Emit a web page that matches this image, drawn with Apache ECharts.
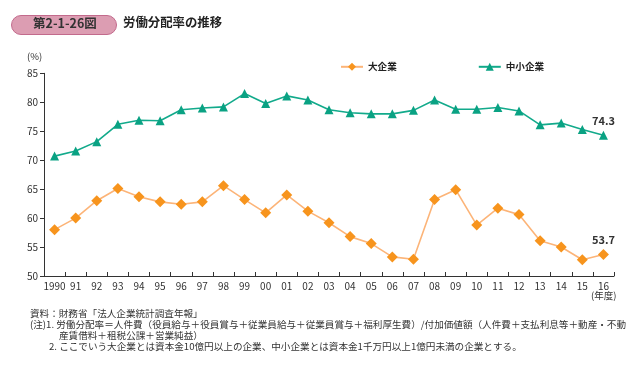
<!DOCTYPE html>
<html><head><meta charset="utf-8">
<script src="https://cdn.jsdelivr.net/npm/echarts@6/dist/echarts.min.js"></script>
<style>html,body{margin:0;padding:0;background:#fff}#c{width:631px;height:369px}</style>
</head><body><div id="c"></div>
<script>
const categories = ['1990','91','92','93','94','95','96','97','98','99','00','01','02','03','04','05','06','07','08','09','10','11','12','13','14','15','16'];
const largeValues = [58.0,60.0,63.0,65.1,63.7,62.8,62.4,62.8,65.6,63.2,60.9,64.0,61.2,59.2,56.8,55.6,53.3,52.9,63.2,64.9,58.8,61.7,60.6,56.1,55.0,52.8,53.7];
const smeValues = [70.7,71.6,73.2,76.2,76.9,76.8,78.7,79.0,79.2,81.5,79.8,81.1,80.4,78.7,78.2,78.0,78.0,78.6,80.4,78.8,78.8,79.1,78.5,76.1,76.4,75.3,74.3];
const seriesNames = ['大企業','中小企業'];
const yTicks = {min:50, max:85, interval:5};
const FONT = '"Noto Sans CJK JP", "Noto Sans", sans-serif';

function withLastLabel(arr){
  return arr.map((v,i)=> i===arr.length-1 ? {value:v, label:{show:true, position:'top', distance:4, formatter: v.toFixed(1), fontSize:11, fontWeight:'bold', color:'#333', fontFamily:FONT}} : v);
}
const chart = echarts.init(document.getElementById('c'), null, {renderer:'canvas'});
const noteStyle = {fontSize:9.6, fill:'#333', fontFamily:FONT, textVerticalAlign:'middle'};
chart.setOption({
  animation:false,
  textStyle:{fontFamily:FONT},
  grid:{left:44, right:17, top:73.3, bottom:93, containLabel:false},
  legend:{
    left:335, top:57, itemWidth:22, itemHeight:10, itemGap:81,
    textStyle:{fontSize:9.6, color:'#222', fontWeight:'bold', fontFamily:FONT},
    data:seriesNames
  },
  xAxis:{
    type:'category', data:categories, boundaryGap:true,
    axisLine:{lineStyle:{color:'#333', width:1}},
    axisTick:{show:true, inside:true, length:4, lineStyle:{color:'#333'}, alignWithLabel:false},
    axisLabel:{fontSize:10, color:'#333', margin:5, interval:0, fontFamily:FONT}
  },
  yAxis:{
    type:'value', min:yTicks.min, max:yTicks.max, interval:yTicks.interval,
    splitLine:{show:false},
    axisLine:{show:true, lineStyle:{color:'#333', width:1}},
    axisTick:{show:true, length:4, lineStyle:{color:'#333'}},
    axisLabel:{fontSize:10, color:'#333', margin:6, fontFamily:FONT}
  },
  series:[
    {name:seriesNames[0], type:'line', data:withLastLabel(largeValues), symbol:'diamond', symbolSize:11,
     itemStyle:{color:'#f7941d'}, lineStyle:{color:'#fcb478', width:1.6}},
    {name:seriesNames[1], type:'line', data:withLastLabel(smeValues), symbol:'triangle', symbolSize:9,
     itemStyle:{color:'#0aa283'}, lineStyle:{color:'#12aa8b', width:1.6}}
  ],
  graphic:[
    {type:'rect', left:11, top:15, shape:{width:105, height:19, r:9.5}, style:{fill:'#dc9db2', stroke:'#c26a8c', lineWidth:1}},
    {type:'text', left:33, top:17, style:{text:'第2-1-26図', fontSize:12.5, fontWeight:'bold', fill:'#333', fontFamily:FONT}},
    {type:'text', left:123, top:16, style:{text:'労働分配率の推移', fontSize:12.4, fontWeight:'bold', fill:'#222', fontFamily:FONT}},
    {type:'text', left:27, top:52, style:{text:'(%)', fontSize:9.5, fill:'#333', fontFamily:FONT}},
    {type:'text', left:591, top:291, style:{text:'(年度)', fontSize:9.5, fill:'#333', fontFamily:FONT}},
    {type:'text', x:30, y:313.5, style:Object.assign({text:'資料：財務省「法人企業統計調査年報」'}, noteStyle)},
    {type:'text', x:30, y:324.5, style:Object.assign({text:'(注)1. 労働分配率＝人件費（役員給与＋役員賞与＋従業員給与＋従業員賞与＋福利厚生費）/付加価値額（人件費＋支払利息等＋動産・不動'}, noteStyle)},
    {type:'text', x:59, y:335, style:Object.assign({text:'産賃借料＋租税公課＋営業純益）'}, noteStyle)},
    {type:'text', x:49, y:346.5, style:Object.assign({text:'2. ここでいう大企業とは資本金10億円以上の企業、中小企業とは資本金1千万円以上1億円未満の企業とする。'}, noteStyle)}
  ]
});
</script></body></html>
